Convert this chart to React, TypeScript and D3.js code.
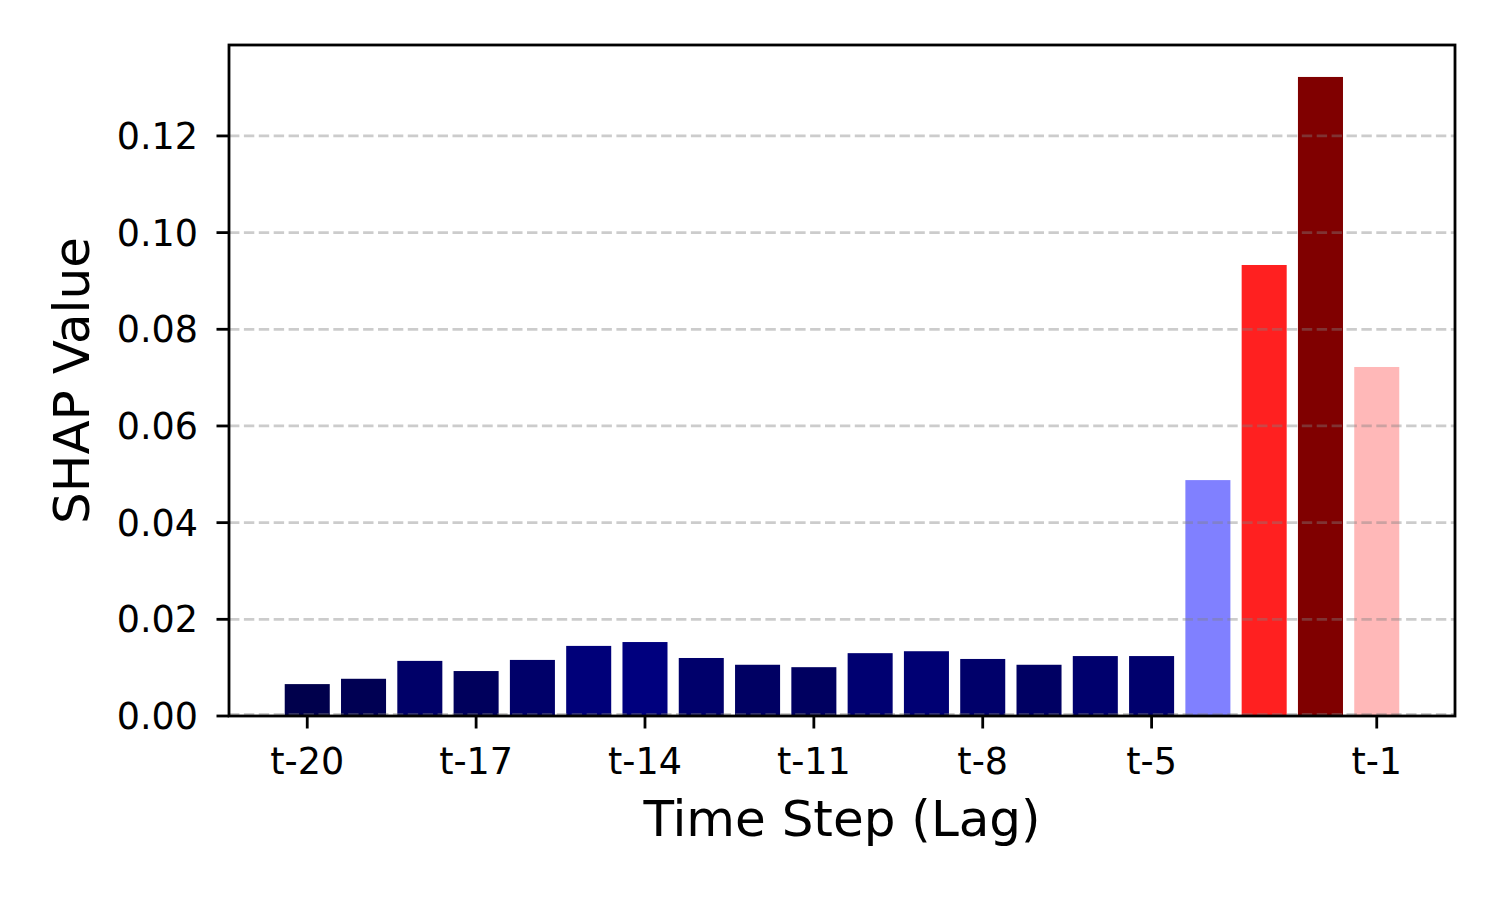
import React from "react";
import * as d3 from "d3";

const lags: string[] = ["t-20","t-19","t-18","t-17","t-16","t-15","t-14","t-13","t-12","t-11","t-10","t-9","t-8","t-7","t-6","t-5","t-4","t-3","t-2","t-1"];
const shapValues: number[] = [0.0066,0.0077,0.0114,0.0093,0.0116,0.0145,0.0153,0.0120,0.0106,0.0101,0.0130,0.0134,0.0118,0.0106,0.0124,0.0124,0.0488,0.0933,0.1322,0.0722];
const xTickLabels: string[] = ["t-20","t-17","t-14","t-11","t-8","t-5","t-1"];
const yTicks: number[] = [0, 0.02, 0.04, 0.06, 0.08, 0.10, 0.12];

const barColors: string[] = ["#00004c","#000053","#000068","#00005c","#000069","#000079","#00007e","#00006b","#000063","#000060","#000071","#000073","#00006a","#000063","#00006d","#00006d","#8080ff","#ff2020","#800000","#ffb8b8"];

const W = 1500, H = 900;
const L = 229, R = 1455, T = 45, B = 716;
const FONT = "DejaVu Sans, sans-serif";

export default function App() {
  const n = lags.length;
  const x = d3.scaleLinear().domain([-1.39, n - 1 + 1.39]).range([L, R]);
  const yMax = d3.max(shapValues)! * 1.05;
  const y = d3.scaleLinear().domain([0, yMax]).range([B, T]);
  const bw = (x(0.8) - x(0));

  return (
    <svg width={W} height={H} style={{ position: "absolute", left: 0, top: 0, background: "#fff" }}>
      <rect x={0} y={0} width={W} height={H} fill="#fff" />
      {shapValues.map((v, i) => (
        <rect key={lags[i]} x={x(i) - bw / 2} y={y(v)} width={bw} height={B - y(v)} fill={barColors[i]} />
      ))}
      {yTicks.map((t) => (
        <line key={"g" + t} x1={L} x2={R} y1={y(t) - (t === 0 ? 1.5 : 0)} y2={y(t) - (t === 0 ? 1.5 : 0)}
          stroke="#808080" strokeOpacity={0.4} strokeWidth={2.8} strokeDasharray="10.4,4.5" />
      ))}
      <rect x={L} y={T} width={R - L} height={B - T} fill="none" stroke="#000" strokeWidth={2.8} />
      {yTicks.map((t) => (
        <g key={"y" + t}>
          <line x1={L - 12.5} x2={L} y1={y(t)} y2={y(t)} stroke="#000" strokeWidth={2.8} />
          <text x={198} y={y(t)} dy="0.36em" textAnchor="end" fontFamily={FONT} fontSize={36.5} fill="#000">
            {t.toFixed(2)}
          </text>
        </g>
      ))}
      {xTickLabels.map((lab) => {
        const i = lags.indexOf(lab);
        return (
          <g key={"x" + lab}>
            <line x1={x(i)} x2={x(i)} y1={B} y2={B + 12.5} stroke="#000" strokeWidth={2.8} />
            <text x={x(i)} y={774} textAnchor="middle" fontFamily={FONT} fontSize={36.5} fill="#000">{lab}</text>
          </g>
        );
      })}
      <text x={(L + R) / 2} y={836} textAnchor="middle" fontFamily={FONT} fontSize={50} fill="#000">Time Step (Lag)</text>
      <text transform={`translate(89, ${(T + B) / 2}) rotate(-90)`} textAnchor="middle" fontFamily={FONT} fontSize={50} fill="#000">SHAP Value</text>
    </svg>
  );
}
